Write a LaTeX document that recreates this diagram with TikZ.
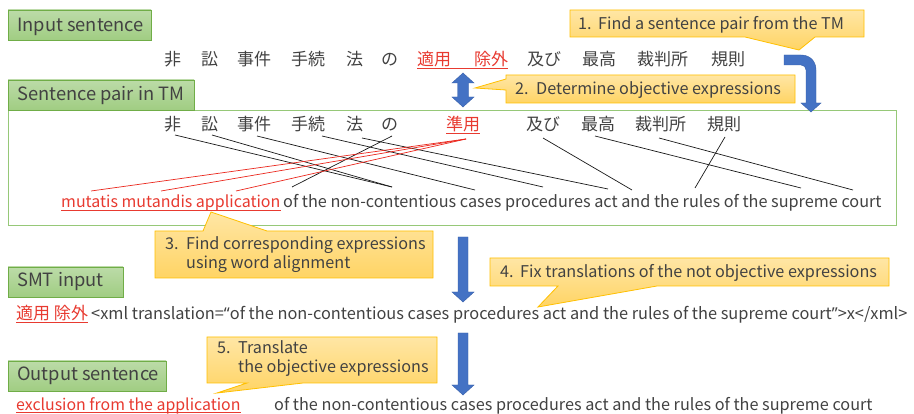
\documentclass[tikz,border=0pt]{standalone}
\usepackage{fontspec}
\setmainfont{Noto Sans CJK JP}
\newfontfamily\qfont{Noto Sans}
\usetikzlibrary{calc}

\definecolor{txt}{RGB}{66,66,66}
\definecolor{hlred}{RGB}{232,58,48}
\definecolor{greenTop}{RGB}{188,219,168}
\definecolor{greenBot}{RGB}{160,205,130}
\definecolor{greenLine}{RGB}{112,173,71}
\definecolor{frameGreen}{RGB}{150,200,120}
\definecolor{noteTop}{RGB}{255,230,165}
\definecolor{noteBot}{RGB}{255,212,100}
\definecolor{noteLine}{RGB}{255,192,0}
\definecolor{arrowBlue}{RGB}{68,114,196}
\definecolor{arrowEdge}{RGB}{55,95,170}
\definecolor{alignGrey}{RGB}{25,25,25}
\definecolor{alignRed}{RGB}{235,40,30}

\begin{document}
\begin{tikzpicture}[x=1pt,y=-1pt,
  lblbox/.style={top color=greenTop,bottom color=greenBot,draw=greenLine,line width=0.8pt},
  lbltext/.style={anchor=base west,inner sep=0pt,text=txt,font=\fontsize{18.3}{21}\selectfont},
  notebox/.style={top color=noteTop,bottom color=noteBot,draw=noteLine,line width=0.8pt},
  notetext/.style={anchor=base west,inner sep=0pt,text=txt,font=\fontsize{16.2}{19}\selectfont},
  jp/.style={anchor=base west,inner sep=0pt,text=txt,font=\fontsize{17}{20}\selectfont},
  en/.style={anchor=base west,inner sep=0pt,text=txt,font=\fontsize{16.25}{19}\selectfont},
  hl/.style={text=hlred},
  uline/.style={draw=hlred,line width=0.8pt},
  link/.style={draw=alignGrey,line width=0.7pt},
  redlink/.style={draw=alignRed,line width=0.7pt},
  blockarrow/.style={fill=arrowBlue,draw=arrowEdge,line width=0.4pt}]
\useasboundingbox[fill=white] (0,0) rectangle (914,414);

% frame around the translation-memory pair
\draw[frameGreen,line width=0.9pt] (8,110) rectangle (896,225);

% section labels
\path[lblbox] (8,10) rectangle (151,40);
\node[lbltext] (lin) at (17,31.5) {Input sentence};
\path[lblbox] (8,80) rectangle (194,110);
\node[lbltext] (lpair) at (17,101) {Sentence pair in TM};
\path[lblbox] (8,267) rectangle (123,297);
\node[lbltext] (lsmt) at (17,287) {SMT input};
\path[lblbox] (8,361) rectangle (166,391);
\node[lbltext] (lout) at (17,381) {Output sentence};

% input sentence
\node[jp] (a1) at (164,66) {非};
\node[jp] (a2) at (201,66) {訟};
\node[jp] (a3) at (237,66) {事件};
\node[jp] (a4) at (291,66) {手続};
\node[jp] (a5) at (346,66) {法};
\node[jp] (a6) at (381,66) {の};
\node[jp,hl] (a7) at (417,66) {適用};
\node[jp,hl] (a8) at (474,66) {除外};
\node[jp] (a9) at (527,66) {及び};
\node[jp] (a10) at (582,66) {最高};
\node[jp] (a11) at (637,66) {裁判所};
\node[jp] (a12) at (711,66) {規則};
\draw[uline] ([yshift=-2.5pt]a7.base west) -- ([yshift=-2.5pt]a8.base east);

% TM source sentence
\node[jp] (b1) at (164,131) {非};
\node[jp] (b2) at (201,131) {訟};
\node[jp] (b3) at (237,131) {事件};
\node[jp] (b4) at (291,131) {手続};
\node[jp] (b5) at (346,131) {法};
\node[jp] (b6) at (381,131) {の};
\node[jp,hl] (b7) at (446,131) {準用};
\node[jp] (b8) at (526,131) {及び};
\node[jp] (b9) at (581,131) {最高};
\node[jp] (b10) at (635,131) {裁判所};
\node[jp] (b11) at (707,131) {規則};
\draw[uline] ([yshift=-2.5pt]b7.base west) -- ([yshift=-2.5pt]b7.base east);

% TM target sentence
\node[en,hl,font=\fontsize{16}{19}\selectfont] (tmut) at (61,208) {mutatis mutandis application};
\draw[uline] ([yshift=-2.5pt]tmut.base west) -- ([yshift=-2.5pt]tmut.base east);
\node[en] (trest) at (283,208) {of the non-contentious cases procedures act and the rules of the supreme court};

% word alignment end points
\coordinate (s1) at (175,135);
\coordinate (s2) at (212,135);
\coordinate (s3) at (257,136);
\coordinate (s4) at (322,136);
\coordinate (s5) at (362,138);
\coordinate (s6) at (392,136);
\coordinate (s7) at (466,139);
\coordinate (s8) at (543,138);
\coordinate (s9) at (595,136);
\coordinate (s10) at (659,138);
\coordinate (s11) at (725,137);
\coordinate (tm1) at (91,191);
\coordinate (tm2) at (161,191);
\coordinate (tm3) at (236,191);
\coordinate (tof) at (292,187);
\coordinate (tnon) at (392,187);
\coordinate (tcases) at (475,190);
\coordinate (tproc) at (543,187);
\coordinate (tact) at (608,189);
\coordinate (tand) at (632,190);
\coordinate (trules) at (695,188);
\coordinate (tsup) at (801,188);
\coordinate (tcourt) at (853,190);

\draw[link] (s1) -- (tnon);
\draw[link] (s2) -- (tnon);
\draw[link] (s3) -- (tcases);
\draw[link] (s4) -- (tproc);
\draw[link] (s5) -- (tact);
\draw[link] (s6) -- (tof);
\draw[link] (s8) -- (tand);
\draw[link] (s9) -- (tsup);
\draw[link] (s10) -- (tcourt);
\draw[link] (s11) -- (trules);
\draw[redlink] (s7) -- (tm1);
\draw[redlink] (s7) -- (tm2);
\draw[redlink] (s7) -- (tm3);

% SMT input line
\node[en,hl,font=\fontsize{17}{20}\selectfont] (sjp) at (16,320) {適用 除外};
\draw[uline] ([yshift=-2.5pt]sjp.base west) -- ([yshift=-2.5pt]sjp.base east);
\node[en,font=\fontsize{16.35}{19}\selectfont] (sxml) at (91,320) {<xml translation={\qfont“}of the non-contentious cases procedures act and the rules of the supreme court{\qfont”}>x</xml>};

% output line
\node[en,hl,font=\fontsize{15.9}{19}\selectfont] (oexc) at (16,410) {exclusion from the application};
\draw[uline] ([yshift=-2.5pt]oexc.base west) -- ([yshift=-2.5pt]oexc.base east);
\node[en] (orest) at (274,410) {of the non-contentious cases procedures act and the rules of the supreme court};

% block arrows
\path[blockarrow] (463,73) -- (474,83) -- (468.5,83) -- (468.5,97) -- (474,97) -- (463,107)
  -- (452,97) -- (457.5,97) -- (457.5,83) -- (452,83) -- cycle;
\path[blockarrow] (784,55) -- (801,55) .. controls (810,55) and (816,61) .. (816,70)
  -- (816,103) -- (821,103) -- (811,112) -- (801,103) -- (806,103) -- (806,70)
  .. controls (806,67) and (804,65) .. (801,65) -- (784,65) -- cycle;
\path[blockarrow] (458,237) -- (468,237) -- (468,292) -- (474,292) -- (463,302)
  -- (452,292) -- (458,292) -- cycle;
\path[blockarrow] (458,333) -- (468,333) -- (468,385) -- (474,385) -- (463,395)
  -- (452,385) -- (458,385) -- cycle;

% step callouts
\path[notebox] (570,10) -- (864,10) -- (864,37) -- (815,37) -- (799,50) -- (745,37) -- (570,37) -- cycle;
\node[notetext] (n1) at (578,30) {\makebox[20pt][l]{1.}Find a sentence pair from the TM};

\path[notebox] (506,75) -- (795,75) -- (795,103) -- (506,103) -- (506,90) -- (475,88) -- (506,79) -- cycle;
\node[notetext] (n2) at (515,95) {\makebox[21pt][l]{2.}Determine objective expressions};

\path[notebox] (155,231) -- (203,231) -- (211,212) -- (267,231) -- (433,231) -- (433,278) -- (155,278) -- cycle;
\node[notetext] (n3a) at (165,250) {\makebox[21pt][l]{3.}Find corresponding expressions};
\node[notetext] (n3b) at (186,269) {using word alignment};

\path[notebox] (490,258) -- (889,258) -- (889,286) -- (657,286) -- (538,307) -- (558,286) -- (490,286) -- cycle;
\node[notetext] (n4) at (500,278) {\makebox[20pt][l]{4.}Fix translations of the not objective expressions};

\path[notebox] (207,337) -- (437,337) -- (437,383) -- (303,383) -- (217,393) -- (247,383) -- (207,383) -- cycle;
\node[notetext] (n5a) at (217,354) {\makebox[21pt][l]{5.}Translate};
\node[notetext] (n5b) at (238,373) {the objective expressions};
\end{tikzpicture}
\end{document}
